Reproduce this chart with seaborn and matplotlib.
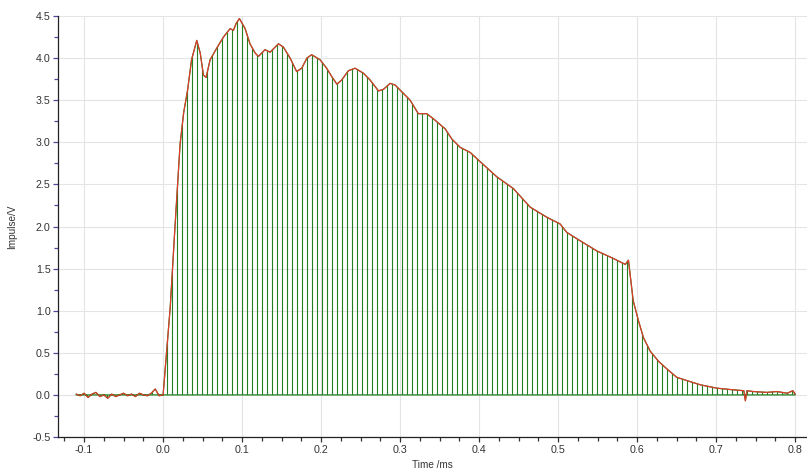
import matplotlib
matplotlib.use("Agg")
import matplotlib.pyplot as plt
import seaborn as sns
import pandas as pd
from matplotlib.ticker import MultipleLocator

# impulse trace
time_ms = [-0.110, -0.105, -0.100, -0.095, -0.090, -0.085, -0.080, -0.075, -0.070, -0.065,
           -0.060, -0.055, -0.050, -0.045, -0.040, -0.035, -0.030, -0.025, -0.020, -0.015,
           -0.010, -0.005, 0.000, 0.009, 0.015, 0.0215, 0.026, 0.031, 0.036, 0.0426,
           0.047, 0.051, 0.0544, 0.0595, 0.068, 0.0764, 0.0848, 0.089, 0.0924, 0.0966,
           0.1038, 0.110, 0.1165, 0.1207, 0.129, 0.1354, 0.146, 0.1523, 0.1608, 0.169,
           0.1755, 0.182, 0.188, 0.1987, 0.207, 0.2135, 0.220, 0.226, 0.2346, 0.243,
           0.2536, 0.262, 0.2726, 0.279, 0.2873, 0.2937, 0.300, 0.3127, 0.323, 0.3337,
           0.342, 0.357, 0.3654, 0.376, 0.3886, 0.4013, 0.4224, 0.4434, 0.4646, 0.4857,
           0.5025, 0.511, 0.528, 0.549, 0.570, 0.585, 0.589, 0.591, 0.595, 0.6017,
           0.608, 0.6165, 0.627, 0.6375, 0.650, 0.663, 0.680, 0.701, 0.722, 0.735,
           0.737, 0.739, 0.747, 0.764, 0.777, 0.790, 0.797, 0.800]
impulse_v = [0.01, -0.01, 0.02, -0.03, 0.01, 0.03, -0.02, 0.00, -0.04, 0.01,
             -0.02, 0.00, 0.02, -0.01, 0.01, -0.02, 0.02, 0.00, -0.01, 0.02,
             0.07, -0.01, 0.00, 1.04, 1.99, 2.98, 3.35, 3.62, 3.98, 4.21,
             4.06, 3.80, 3.77, 3.98, 4.12, 4.25, 4.35, 4.33, 4.41, 4.47,
             4.35, 4.17, 4.06, 4.02, 4.10, 4.07, 4.17, 4.13, 4.00, 3.84,
             3.88, 4.00, 4.04, 3.98, 3.88, 3.78, 3.69, 3.74, 3.85, 3.88,
             3.82, 3.74, 3.61, 3.63, 3.70, 3.68, 3.62, 3.50, 3.34, 3.34,
             3.28, 3.16, 3.04, 2.94, 2.88, 2.77, 2.59, 2.45, 2.23, 2.11,
             2.03, 1.93, 1.83, 1.71, 1.62, 1.55, 1.60, 1.44, 1.12, 0.88,
             0.68, 0.52, 0.40, 0.31, 0.21, 0.17, 0.12, 0.08, 0.06, 0.05,
             -0.07, 0.05, 0.04, 0.03, 0.04, 0.02, 0.05, 0.01]

df = pd.DataFrame({"Time /ms": time_ms, "Impulse/V": impulse_v})

sns.set_style("whitegrid")
plt.rcParams["font.family"] = ["Liberation Sans", "DejaVu Sans"]
plt.rcParams["hatch.linewidth"] = 0.9

fig = plt.figure(figsize=(807 / 90, 469 / 90), dpi=90)
ax = fig.add_axes([0.0719, 0.0682, 0.9281, 0.8977])

green = "#228022"
ax.fill_between(df["Time /ms"], 0, df["Impulse/V"], facecolor="none",
                edgecolor=green, hatch="|||", linewidth=1.0, zorder=2)
sns.lineplot(data=df, x="Time /ms", y="Impulse/V", color="#e8382a",
             linewidth=0.9, ax=ax, zorder=3)

ax.set_xlim(-0.133, 0.815)
ax.set_ylim(-0.5, 4.5)
ax.xaxis.set_major_locator(MultipleLocator(0.1))
ax.xaxis.set_minor_locator(MultipleLocator(0.025))
ax.yaxis.set_major_locator(MultipleLocator(0.5))
ax.yaxis.set_minor_locator(MultipleLocator(0.25))
ax.xaxis.set_major_formatter(plt.FuncFormatter(lambda v, p: f"{v:.1f}"))
ax.yaxis.set_major_formatter(plt.FuncFormatter(lambda v, p: f"{v:.1f}"))

ax.grid(True, which="major", color="#e4e4e4", linewidth=0.9)
ax.grid(False, which="minor")
for side in ["top", "right"]:
    ax.spines[side].set_visible(False)
for side in ["left", "bottom"]:
    ax.spines[side].set_color("#222222")
    ax.spines[side].set_linewidth(1.0)

ax.tick_params(axis="both", which="major", direction="out", length=4, width=1,
               labelsize=8.5, labelcolor="#333333", pad=2)
ax.tick_params(axis="both", which="minor", direction="out", length=3, width=1)
ax.tick_params(axis="y", which="both", color="#4a4aa0", left=True)
ax.tick_params(axis="x", which="both", color="#333333", bottom=True)

ax.set_xlabel("Time /ms", fontsize=8, color="#333333", labelpad=4)
ax.set_ylabel("Impulse/V", fontsize=8, color="#333333", labelpad=12)

fig.savefig("out.png", dpi=90)
